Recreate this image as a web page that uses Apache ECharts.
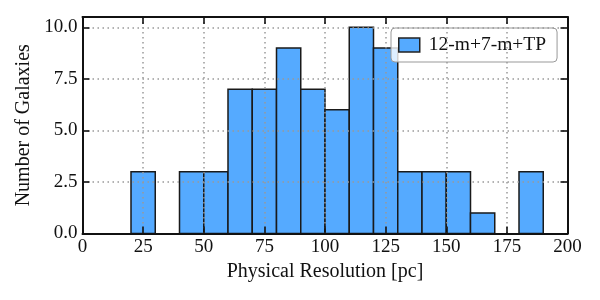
<!DOCTYPE html>
<html><head><meta charset="utf-8">
<script src="https://cdn.jsdelivr.net/npm/echarts@6/dist/echarts.min.js"></script>
<style>html,body{margin:0;padding:0;background:#fff}#c{width:600px;height:300px}</style>
</head><body><div id="c"></div>
<script>
var binStarts = [20,30,40,50,60,70,80,90,100,110,120,130,140,150,160,170,180];
var binWidth = 10;
var counts = [3,0,3,3,7,7,9,7,6,10,9,3,3,3,1,0,3];
var xTicks = [0,25,50,75,100,125,150,175,200];
var yTickLabels = ['0.0','2.5','5.0','7.5','10.0'];
var seriesName = '12-m+7-m+TP';

var data = binStarts.map(function(s,i){return [s, s+binWidth, counts[i]];}).filter(function(d){return d[2]>0;});
var font = '"Liberation Serif","DejaVu Serif",serif';
var chart = echarts.init(document.getElementById('c'));
function axisCommon(){ return {
  axisLine:{show:true,onZero:false,lineStyle:{color:'#111',width:2}},
  axisTick:{show:true,inside:true,length:7,lineStyle:{color:'#111',width:1.6}},
  z:5
};}
chart.setOption({
  animation:false,
  grid:{left:82.5,right:32.5,top:17,bottom:66.5,containLabel:false,outerBoundsMode:'none'},
  legend:{
    show:true, left:391, top:28, orient:'vertical',
    padding:[7,11,7,7],
    backgroundColor:'rgba(255,255,255,0.8)', borderColor:'#999', borderWidth:1, borderRadius:4,
    itemWidth:21, itemHeight:14,
    textStyle:{fontFamily:font,fontSize:19.5,color:'#111',padding:[0,0,0,4]},
    data:[{name:seriesName,icon:'rect',itemStyle:{color:'#55aaff',borderColor:'#222',borderWidth:1.5}}]
  },
  xAxis:[
    Object.assign({type:'value',min:0,max:200,interval:25,position:'bottom',
      name:'Physical Resolution [pc]',nameLocation:'middle',nameGap:28,
      nameTextStyle:{fontFamily:font,fontSize:20,color:'#111'},
      axisLabel:{fontFamily:font,fontSize:19,color:'#111',margin:4},
      splitLine:{show:true,lineStyle:{type:[1.5,3.5],color:'#999',width:1.5}}},axisCommon()),
    Object.assign({type:'value',min:0,max:200,interval:25,position:'top',
      axisLabel:{show:false},splitLine:{show:false}},axisCommon())
  ],
  yAxis:[
    Object.assign({type:'value',min:0,max:10.5,interval:2.5,position:'left',
      name:'Number of Galaxies',nameLocation:'middle',nameGap:47,
      nameTextStyle:{fontFamily:font,fontSize:20,color:'#111'},
      axisLabel:{fontFamily:font,fontSize:19,color:'#111',margin:5,
        formatter:function(v){var i=Math.round(v/2.5);return (Math.abs(v-i*2.5)<1e-6&&i<yTickLabels.length)?yTickLabels[i]:'';}},
      splitLine:{show:true,lineStyle:{type:[1.5,3.5],color:'#999',width:1.5}}},axisCommon()),
    Object.assign({type:'value',min:0,max:10.5,interval:2.5,position:'right',
      axisLabel:{show:false},splitLine:{show:false}},axisCommon())
  ],
  series:[{
    name:seriesName,type:'custom',xAxisIndex:0,yAxisIndex:0,z:2,
    data:data,
    encode:{x:[0,1],y:2},
    renderItem:function(params,api){
      var p0=api.coord([api.value(0),0]);
      var p1=api.coord([api.value(1),api.value(2)]);
      return {type:'rect',shape:{x:p0[0],y:p1[1],width:p1[0]-p0[0],height:p0[1]-p1[1]},
        style:{fill:'#55aaff',stroke:'#1a1a1a',lineWidth:1.5}};
    }
  }]
});
</script></body></html>
